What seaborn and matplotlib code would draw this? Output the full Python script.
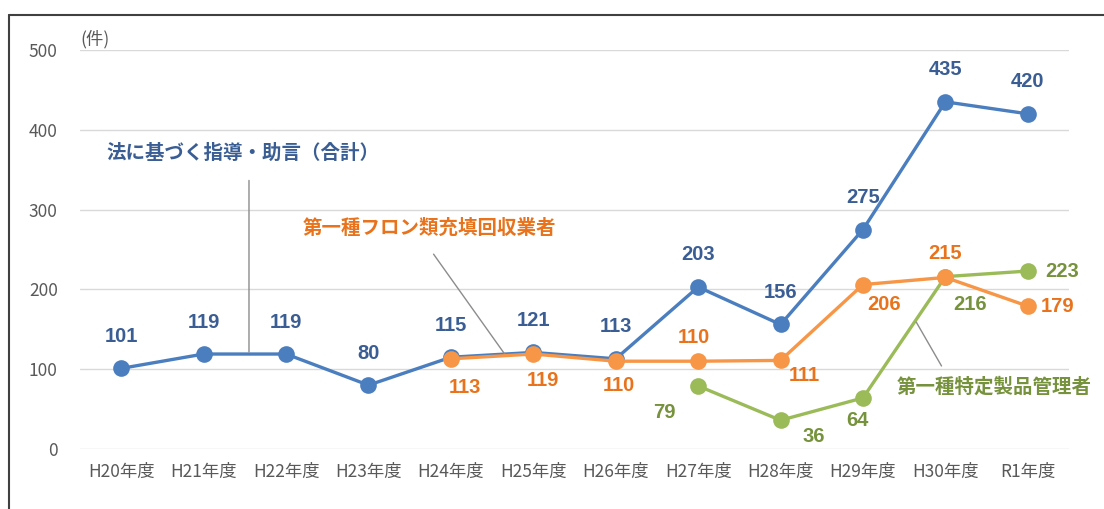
import matplotlib
matplotlib.use('Agg')
from matplotlib import pyplot as plt
from matplotlib.lines import Line2D
import seaborn as sns
import pandas as pd

sns.set_style('white')
plt.rcParams['font.family'] = ['Noto Sans CJK JP', 'DejaVu Sans']

years = ['H20年度', 'H21年度', 'H22年度', 'H23年度', 'H24年度', 'H25年度',
         'H26年度', 'H27年度', 'H28年度', 'H29年度', 'H30年度', 'R1年度']
total = [101, 119, 119, 80, 115, 121, 113, 203, 156, 275, 435, 420]
recovery = [113, 119, 110, 110, 111, 206, 215, 179]        # H24-R1
managers = [79, 36, 64, 216, 223]                          # H27-R1

names = ['法に基づく指導・助言（合計）', '第一種フロン類充填回収業者', '第一種特定製品管理者']
line_colors = ['#4A7EBE', '#F79646', '#9BBB59']
text_colors = ['#3A5E94', '#E8731C', '#76923C']

df = pd.concat([
    pd.DataFrame({'年度': years[-len(v):], '件数': v, '区分': n})
    for n, v in zip(names, [total, recovery, managers])
])

fig = plt.figure(figsize=(11.04, 5.09), dpi=100)
ax = fig.add_axes([0.0725, 0.1179, 0.8958, 0.7839])

sns.lineplot(data=df, x='年度', y='件数', hue='区分', hue_order=names,
             palette=line_colors, marker='o', markersize=12, markeredgewidth=0,
             linewidth=2.4, sort=False, legend=False, ax=ax)
# orange above green above blue
for ln, z in zip(ax.lines, [2, 4, 3]):
    ln.set_zorder(z)

ax.set_xlim(-0.5, len(years) - 0.5)
ax.set_ylim(0, 500)
ax.set_yticks(range(0, 501, 100))
ax.yaxis.grid(True, color='#D9D9D9', lw=1)
ax.set_axisbelow(True)
for s in ax.spines.values():
    s.set_visible(False)
ax.tick_params(axis='y', length=0, pad=16, labelsize=12.5, labelcolor='#595959')
ax.tick_params(axis='x', length=0, pad=10, labelsize=12.5, labelcolor='#595959')
ax.set_xlabel('')
ax.set_ylabel('')
ax.text(-0.5, 502, '(件)', ha='left', va='bottom', fontsize=12.5, color='#595959')

# data labels (offsets in pixels)
offsets = [
    [(0, 32)] * 12,
    [(14, -29), (10, -26), (3, -24), (-4, 24), (24, -15), (21, -20), (0, 24), (30, 0)],
    [(-34, -27), (33, -16), (-6, -23), (25, -28), (34, 0)],
]
for vals, offs, col in zip([total, recovery, managers], offsets, text_colors):
    start = len(years) - len(vals)
    for i, (v, off) in enumerate(zip(vals, offs)):
        ax.annotate(str(v), (start + i, v), xytext=off, textcoords='offset pixels',
                    ha='center', va='center', fontsize=14.5, fontweight='bold',
                    color=col, family='Liberation Sans', zorder=6)

# series callouts with leader lines
callouts = [((1.48, 371), (1.55, 340), (1.55, 118)),
            ((3.74, 277), (3.77, 247), (4.68, 115)),
            ((10.59, 78), (9.63, 162), (9.97, 101))]
for name, col, (tpos, p0, p1) in zip(names, text_colors, callouts):
    ax.text(*tpos, name, ha='center', va='center', fontsize=14,
            fontweight='bold', color=col)
    ax.annotate('', xy=p1, xytext=p0,
                arrowprops=dict(arrowstyle='-', color='#8C8C8C', lw=1))

# frame
fig.add_artist(Line2D([0.0082, 1], [0.9705, 0.9705], color='#404040', lw=1.5))
fig.add_artist(Line2D([0.0082, 0.0082], [0, 0.9705], color='#404040', lw=1.5))

fig.savefig('out.png', dpi=100)
